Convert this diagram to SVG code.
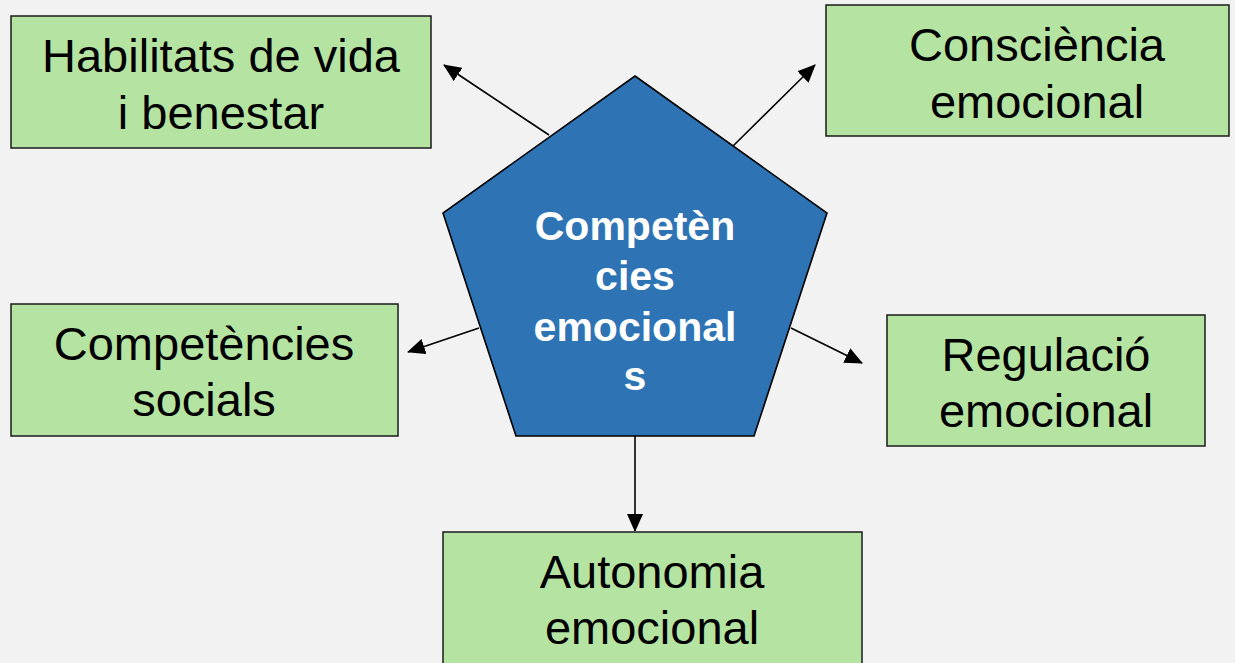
<svg xmlns="http://www.w3.org/2000/svg" width="1235" height="663" viewBox="0 0 1235 663">
<style>
.box{fill:#b5e4a2;stroke:#1a1a1a;stroke-width:1.5}
.t{font-family:"Liberation Sans",Arial,sans-serif;font-size:47px;fill:#000;text-anchor:middle}
.w{font-family:"Liberation Sans",Arial,sans-serif;font-size:41px;font-weight:bold;fill:#fff;text-anchor:middle}
.c{stroke:#000;stroke-width:1.6;fill:none;marker-end:url(#ah)}
</style>
<defs>
<marker id="ah" markerUnits="userSpaceOnUse" markerWidth="18" markerHeight="16" viewBox="0 0 18 16" refX="17" refY="8" orient="auto">
<path d="M0,0 L18,8 L0,16 Z" fill="#000"/>
</marker>
</defs>
<rect width="1235" height="663" fill="#f2f2f2"/>
<g id="connectors">
<line class="c" x1="549" y1="135" x2="444" y2="65"/>
<line class="c" x1="732" y1="147" x2="815" y2="65"/>
<line class="c" x1="479" y1="328" x2="408" y2="352"/>
<line class="c" x1="791" y1="328" x2="862" y2="363"/>
<line class="c" x1="635" y1="436" x2="635" y2="531"/>
</g>
<g id="center">
<polygon points="635,76 827,213 754,436 516,436 443,213" fill="#2e74b5" stroke="#000" stroke-width="1.6"/>
<text class="w" x="635" y="240">Competèn</text>
<text class="w" x="635" y="290">cies</text>
<text class="w" x="635" y="341">emocional</text>
<text class="w" x="635" y="390">s</text>
</g>
<g id="habilitats">
<rect class="box" x="11" y="16" width="420" height="132"/>
<text class="t" x="221" y="72">Habilitats de vida</text>
<text class="t" x="221" y="129">i benestar</text>
</g>
<g id="consciencia">
<rect class="box" x="826" y="5" width="403" height="131"/>
<text class="t" x="1037" y="61">Consciència</text>
<text class="t" x="1037" y="118">emocional</text>
</g>
<g id="socials">
<rect class="box" x="11" y="304" width="387" height="132"/>
<text class="t" x="204" y="360">Competències</text>
<text class="t" x="204" y="416">socials</text>
</g>
<g id="regulacio">
<rect class="box" x="887" y="315" width="318" height="131"/>
<text class="t" x="1046" y="371">Regulació</text>
<text class="t" x="1046" y="427">emocional</text>
</g>
<g id="autonomia">
<rect class="box" x="443" y="532" width="419" height="140"/>
<text class="t" x="652" y="588">Autonomia</text>
<text class="t" x="652" y="644">emocional</text>
</g>
</svg>
